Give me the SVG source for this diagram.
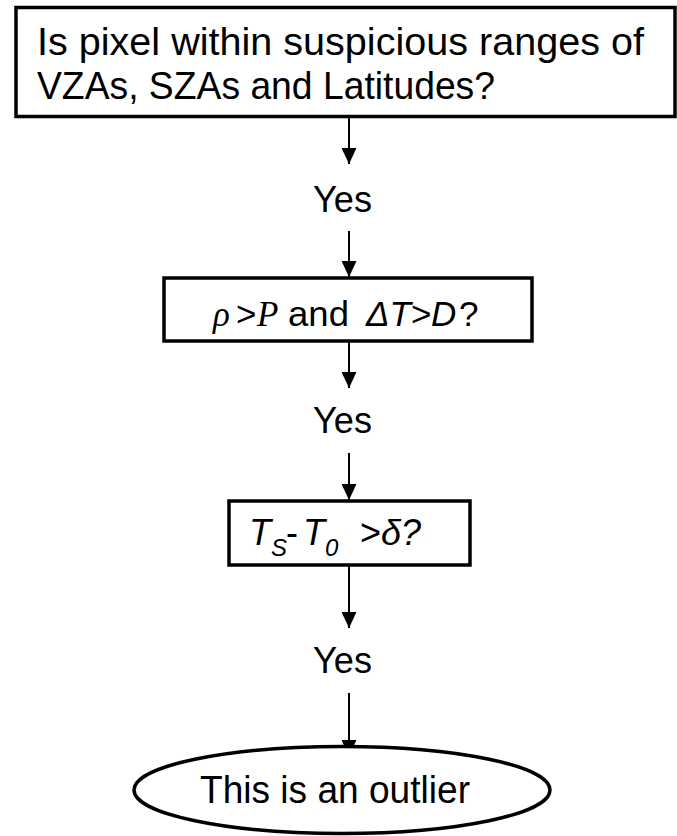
<svg xmlns="http://www.w3.org/2000/svg" width="677" height="836" viewBox="0 0 677 836">
  <defs>
    <marker id="arrow" viewBox="0 0 16 15" refX="16" refY="7.5" markerWidth="16" markerHeight="15" markerUnits="userSpaceOnUse" orient="auto">
      <path d="M0,0 L16,7.5 L0,15 Z" fill="#000"/>
    </marker>
    <style>
      .box { fill: #fff; stroke: #000; stroke-width: 3.5; }
      .edge { fill: none; stroke: #000; stroke-width: 2; marker-end: url(#arrow); }
      .t { font-family: "Liberation Sans", Arial, sans-serif; fill: #000; }
      .it { font-style: italic; }
      .serif { font-family: "Liberation Serif", "Times New Roman", serif; font-style: italic; }
    </style>
  </defs>

  <!-- connectors -->
  <g id="connectors">
    <line class="edge" x1="349" y1="118" x2="349" y2="164"/>
    <line class="edge" x1="349" y1="231" x2="349" y2="277"/>
    <line class="edge" x1="349" y1="342" x2="349" y2="388"/>
    <line class="edge" x1="349" y1="453" x2="349" y2="500"/>
    <line class="edge" x1="349" y1="566" x2="349" y2="628"/>
    <line class="edge" x1="349" y1="693" x2="349" y2="756"/>
  </g>

  <!-- first test -->
  <g id="node-range">
    <rect class="box" x="16" y="7.5" width="659" height="109"/>
    <text class="t" x="37" y="55" font-size="39" textLength="607" lengthAdjust="spacingAndGlyphs">Is pixel within suspicious ranges of</text>
    <text class="t" x="37" y="99" font-size="39" textLength="458" lengthAdjust="spacingAndGlyphs">VZAs, SZAs and Latitudes?</text>
  </g>

  <g id="label-yes-1">
    <text class="t" x="313" y="212" font-size="37" textLength="59" lengthAdjust="spacingAndGlyphs">Yes</text>
  </g>

  <!-- second test -->
  <g id="node-threshold">
    <rect class="box" x="164" y="278" width="368" height="63"/>
    <text class="t" x="213" y="326" font-size="35"><tspan class="serif">ρ</tspan><tspan x="236">&gt;</tspan><tspan class="serif" x="257">P</tspan><tspan x="288" textLength="61" lengthAdjust="spacingAndGlyphs">and</tspan><tspan class="it" x="366">ΔT</tspan><tspan x="411">&gt;</tspan><tspan class="it" x="431">D</tspan><tspan x="459">?</tspan></text>
  </g>

  <g id="label-yes-2">
    <text class="t" x="313" y="433" font-size="37" textLength="59" lengthAdjust="spacingAndGlyphs">Yes</text>
  </g>

  <!-- third test -->
  <g id="node-temperature">
    <rect class="box" x="229" y="501" width="241" height="64"/>
    <text class="t it" x="249" y="545" font-size="36">T<tspan x="271" y="556" font-size="24">S</tspan><tspan x="286" y="545" font-style="normal">-</tspan><tspan x="303" y="545">T</tspan><tspan x="325" y="556" font-size="24">0</tspan><tspan x="360" y="545" font-style="normal">&gt;</tspan><tspan x="381" y="545">δ?</tspan></text>
  </g>

  <g id="label-yes-3">
    <text class="t" x="313" y="673" font-size="37" textLength="59" lengthAdjust="spacingAndGlyphs">Yes</text>
  </g>

  <!-- result -->
  <g id="node-outlier">
    <ellipse class="box" cx="342" cy="790" rx="208" ry="43.5" stroke-width="4"/>
    <text class="t" x="200" y="803" font-size="38" textLength="270" lengthAdjust="spacingAndGlyphs">This is an outlier</text>
  </g>
</svg>
